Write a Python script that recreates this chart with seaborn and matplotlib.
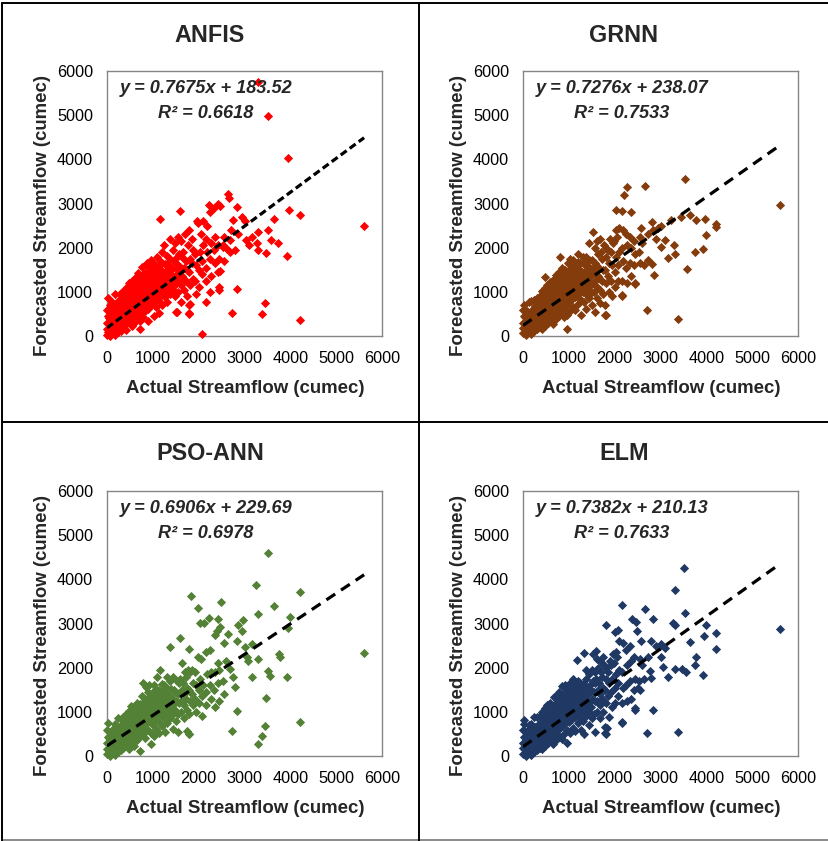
import matplotlib
matplotlib.use("Agg")
import matplotlib.pyplot as plt
import seaborn as sns
import pandas as pd
from matplotlib.lines import Line2D

# --- data (cumec) ---
models = ["ANFIS", "GRNN", "PSO-ANN", "ELM"]
slopes = [0.7675, 0.7276, 0.6906, 0.7382]
intercepts = [183.52, 238.07, 229.69, 210.13]
r2 = [0.6618, 0.7533, 0.6978, 0.7633]
colors = ["#FF0000", "#843C0C", "#538135", "#1F3864"]
ticks = [0, 1000, 2000, 3000, 4000, 5000, 6000]

anfis_actual = [
    0, 10, 5, 20, 0, 15, 30,
    60, 50, 70, 40, 80, 60,
    120, 110, 130, 100, 140, 120,
    180, 170, 190, 160, 200, 180, 170,
    240, 230, 250, 220, 260, 240,
    300, 290, 310, 280, 320, 300, 290,
    360, 350, 370, 340, 380, 360, 350,
    420, 410, 430, 400, 440, 420, 410, 430,
    480, 470, 490, 460, 500, 480, 470,
    540, 530, 550, 520, 560, 540, 530, 550,
    600, 590, 610, 580, 620, 600, 590, 610,
    660, 650, 670, 640, 680, 660, 650, 670,
    720, 710, 730, 700, 740, 720, 710, 730, 700,
    780, 770, 790, 760, 800, 780, 770, 790, 760,
    840, 830, 850, 820, 860, 840, 830, 850,
    900, 890, 910, 880, 920, 900, 890, 910, 880,
    960, 950, 970, 940, 980, 960, 950, 970,
    1020, 1010, 1030, 1000, 1040, 1020, 1010, 1030,
    1080, 1070, 1090, 1060, 1100, 1080, 1070, 1090,
    1140, 1130, 1150, 1120, 1160, 1140, 1130, 1150,
    1200, 1190, 1210, 1180, 1220, 1200, 1190, 1210,
    1260, 1250, 1270, 1240, 1280, 1260, 1250,
    1320, 1310, 1330, 1300, 1340, 1320, 1310,
    1380, 1370, 1390, 1360, 1400, 1380, 1370,
    1440, 1430, 1450, 1420, 1460, 1440,
    1500, 1490, 1510, 1480, 1520, 1500, 1490,
    1560, 1550, 1570, 1540, 1580, 1560,
    1620, 1610, 1630, 1600, 1640, 1620,
    1680, 1670, 1690, 1660, 1700,
    1740, 1730, 1750, 1720, 1760,
    1800, 1790, 1810, 1780, 1820, 1800,
    1870, 1860, 1880, 1850,
    1940, 1930, 1950, 1920, 1960,
    2010, 2000, 2020, 1990,
    2080, 2070, 2090, 2060, 2100,
    2170, 2160, 2180, 2150, 2190,
    2260, 2250, 2270, 2240,
    2350, 2340, 2360, 2330,
    2440, 2430, 2450, 2420, 2460,
    2550, 2540, 2560,
    3300, 3520, 3955, 5610, 4210, 3450, 3390, 2720, 2070, 2845,
    3970, 4220, 3640, 3300, 3520, 3570, 3740, 3480, 3930, 3300,
    3270, 3105, 3155, 3035, 2845, 2670, 2650, 2430, 2230, 1600,
    1150, 2760, 3010, 2955, 2865, 2685, 2795, 2685, 2525, 2455,
    2445, 2155, 1800, 1525, 1815, 2600, 2700, 2250,
]
anfis_forecast = [
    20, 150, 300, 450, 600, 870, 80,
    0, 120, 260, 400, 540, 700,
    60, 200, 340, 480, 620, 760,
    20, 150, 280, 420, 560, 700, 940,
    90, 230, 370, 510, 650, 800,
    120, 260, 400, 540, 680, 820, 960,
    180, 320, 460, 600, 740, 880, 1020,
    130, 280, 420, 560, 700, 840, 980, 1120,
    350, 490, 630, 770, 910, 1050, 1190,
    220, 400, 540, 680, 820, 960, 1100, 1240,
    300, 460, 600, 740, 880, 1020, 1160, 1320,
    420, 560, 700, 840, 980, 1120, 1260, 1420,
    150, 330, 500, 640, 780, 920, 1060, 1200, 1360,
    420, 570, 710, 850, 990, 1130, 1270, 1410, 1560,
    560, 720, 860, 1000, 1140, 1280, 1420, 1600,
    350, 620, 780, 920, 1060, 1200, 1340, 1480, 1660,
    700, 840, 980, 1120, 1260, 1400, 1550, 1720,
    450, 760, 900, 1040, 1180, 1320, 1460, 1620,
    650, 860, 1000, 1140, 1280, 1420, 1570, 1800,
    520, 800, 960, 1100, 1240, 1380, 1530, 1700,
    700, 920, 1060, 1200, 1340, 1480, 1650, 1900,
    880, 1050, 1190, 1330, 1480, 1640, 2050,
    760, 1000, 1150, 1300, 1460, 1620, 1820,
    950, 1100, 1250, 1400, 1560, 1750, 2200,
    1050, 1200, 1360, 1520, 1700, 1950,
    550, 900, 1180, 1350, 1520, 1760, 2100,
    1000, 1250, 1420, 1600, 1850, 2250,
    780, 1150, 1350, 1560, 1780, 2150,
    1050, 1300, 1550, 1900, 2300,
    900, 1250, 1500, 1700, 2050,
    520, 700, 1150, 1450, 1750, 2400,
    1300, 1650, 1950, 2200,
    950, 1250, 1600, 1850, 2600,
    1100, 1500, 1900, 2550,
    1400, 1700, 2050, 2300, 2600,
    1250, 1550, 1900, 2200, 2500,
    1350, 1750, 2100, 2800,
    1650, 1950, 2250, 2900,
    1050, 1450, 1750, 2050, 2950,
    1700, 2050, 2250,
    5740, 4980, 4040, 2500, 355, 750, 505, 530, 40, 1075,
    2850, 2745, 2660, 2360, 2395, 2170, 2095, 1890, 1815, 1945,
    2110, 2055, 2245, 2170, 2910, 3135, 3225, 3000, 2965, 2835,
    2640, 2625, 2610, 2700, 2320, 2170, 1945, 1905, 2020, 1475,
    1110, 770, 505, 545, 720, 2000, 2400, 1000,
]

grnn_actual = [
    0, 10, 5, 20, 0, 15,
    60, 50, 70, 40, 80,
    120, 110, 130, 100, 140,
    180, 170, 190, 160, 200, 180,
    240, 230, 250, 220, 260, 240,
    300, 290, 310, 280, 320, 300,
    360, 350, 370, 340, 380, 360,
    420, 410, 430, 400, 440, 420, 410,
    480, 470, 490, 460, 500, 480, 470, 490,
    540, 530, 550, 520, 560, 540, 530,
    600, 590, 610, 580, 620, 600, 590,
    660, 650, 670, 640, 680, 660, 650, 670,
    720, 710, 730, 700, 740, 720, 710, 730,
    780, 770, 790, 760, 800, 780, 770, 790, 810,
    840, 830, 850, 820, 860, 840, 830, 850,
    900, 890, 910, 880, 920, 900, 890, 910,
    960, 950, 970, 940, 980, 960, 950, 970, 980,
    1020, 1010, 1030, 1000, 1040, 1020, 1010, 1030,
    1080, 1070, 1090, 1060, 1100, 1080, 1070, 1090,
    1140, 1130, 1150, 1120, 1160, 1140, 1130,
    1200, 1190, 1210, 1180, 1220, 1200, 1190, 1210,
    1260, 1250, 1270, 1240, 1280, 1260, 1250,
    1320, 1310, 1330, 1300, 1340, 1320, 1310,
    1380, 1370, 1390, 1360, 1400, 1380, 1370,
    1440, 1430, 1450, 1420, 1460, 1440, 1430,
    1500, 1490, 1510, 1480, 1520, 1500, 1530,
    1560, 1550, 1570, 1540, 1580, 1560,
    1620, 1610, 1630, 1600, 1640, 1620,
    1680, 1670, 1690, 1660, 1700, 1680,
    1740, 1730, 1750, 1720, 1760,
    1800, 1790, 1810, 1780, 1820, 1800,
    1870, 1860, 1880, 1850, 1890,
    1940, 1930, 1950, 1920, 1960,
    2010, 2000, 2020, 1990, 2030,
    2080, 2070, 2090, 2060, 2100,
    2170, 2160, 2180, 2150, 2190,
    2260, 2250, 2270, 2240,
    2350, 2340, 2360, 2330,
    2440, 2430, 2450, 2420,
    2550, 2540, 2560, 2570,
    5615, 3530, 2655, 2270, 2205, 2350, 2035, 2160, 3635, 3455,
    3965, 3780, 4220, 4220, 4000, 3935, 3745, 3585, 3310, 3165,
    3020, 3090, 3295, 2725, 2835, 2815, 3005, 3235, 2725, 2815,
    2850, 2715, 3380, 2435, 2160, 1795, 2600, 2900, 2650, 2950,
]
grnn_forecast = [
    60, 180, 300, 450, 580, 700,
    30, 160, 290, 420, 560,
    80, 220, 360, 500, 780,
    40, 180, 320, 460, 600, 800,
    110, 250, 390, 530, 670, 820,
    150, 290, 430, 570, 710, 860,
    200, 340, 480, 620, 760, 900,
    160, 310, 450, 590, 730, 870, 1020,
    230, 380, 520, 660, 800, 940, 1080, 1340,
    300, 450, 590, 730, 870, 1010, 1150,
    370, 520, 660, 800, 940, 1080, 1220,
    280, 440, 590, 730, 870, 1010, 1150, 1300,
    380, 520, 660, 800, 940, 1080, 1220, 1380,
    450, 600, 740, 880, 1020, 1160, 1300, 1450, 1800,
    520, 680, 820, 960, 1100, 1240, 1380, 1550,
    420, 620, 780, 920, 1060, 1200, 1340, 1500,
    160, 480, 700, 860, 1000, 1140, 1280, 1440, 1650,
    560, 760, 920, 1060, 1200, 1340, 1500, 1750,
    650, 830, 980, 1120, 1260, 1400, 1560, 1720,
    600, 880, 1040, 1180, 1320, 1460, 1620,
    720, 960, 1100, 1240, 1380, 1520, 1680, 1850,
    480, 840, 1040, 1180, 1330, 1480, 1650,
    780, 1000, 1150, 1300, 1460, 1620, 1800,
    620, 950, 1120, 1280, 1440, 1600, 1780,
    850, 1050, 1220, 1380, 1540, 1720, 2100,
    700, 980, 1180, 1350, 1520, 1720, 2350,
    550, 1000, 1250, 1450, 1650, 2000,
    850, 1100, 1350, 1600, 1850, 2150,
    750, 1050, 1300, 1550, 1900, 2200,
    950, 1250, 1500, 1750, 2050,
    470, 700, 1200, 1500, 1800, 2000,
    1000, 1350, 1650, 1950, 2200,
    900, 1250, 1600, 1900, 2100,
    1100, 1450, 1800, 2150, 2400,
    1250, 1600, 1900, 2250, 2450,
    900, 1250, 1700, 2000, 2400,
    1200, 1550, 2050, 2300,
    1350, 1650, 2000, 2250,
    1200, 1600, 1850, 2150,
    1650, 1900, 2250, 2450,
    2960, 3545, 3395, 3380, 3190, 2810, 2850, 2835, 2735, 2700,
    2660, 2625, 2545, 2470, 2285, 1980, 1905, 1525, 1865, 1755,
    2005, 2170, 2055, 2320, 2395, 2585, 2500, 2625, 1715, 1640,
    1375, 580, 380, 1185, 920, 470, 2100, 2200, 1600, 2450,
]

pso_actual = [
    0, 10, 5, 20, 0, 15,
    60, 50, 70, 40, 80,
    120, 110, 130, 100, 140,
    180, 170, 190, 160, 200, 180,
    240, 230, 250, 220, 260, 240,
    300, 290, 310, 280, 320, 300,
    360, 350, 370, 340, 380, 360,
    420, 410, 430, 400, 440, 420,
    480, 470, 490, 460, 500, 480, 470,
    540, 530, 550, 520, 560, 540, 530,
    600, 590, 610, 580, 620, 600, 590,
    660, 650, 670, 640, 680, 660, 650,
    720, 710, 730, 700, 740, 720, 710,
    780, 770, 790, 760, 800, 780, 770, 790,
    840, 830, 850, 820, 860, 840, 830, 850,
    900, 890, 910, 880, 920, 900, 890, 910,
    960, 950, 970, 940, 980, 960, 950,
    1020, 1010, 1030, 1000, 1040, 1020, 1010, 1030,
    1080, 1070, 1090, 1060, 1100, 1080, 1070, 1090,
    1140, 1130, 1150, 1120, 1160, 1140, 1130, 1150,
    1200, 1190, 1210, 1180, 1220, 1200, 1190,
    1260, 1250, 1270, 1240, 1280, 1260, 1250,
    1320, 1310, 1330, 1300, 1340, 1320, 1310,
    1380, 1370, 1390, 1360, 1400, 1380,
    1440, 1430, 1450, 1420, 1460, 1440,
    1500, 1490, 1510, 1480, 1520,
    1560, 1550, 1570, 1540, 1580,
    1620, 1610, 1630, 1600, 1640,
    1680, 1670, 1690, 1660, 1700,
    1740, 1730, 1750, 1720, 1760,
    1800, 1790, 1810, 1780, 1820,
    1870, 1860, 1880, 1850,
    1940, 1930, 1950, 1920,
    2010, 2000, 2020, 1990,
    2080, 2070, 2090, 2060,
    2170, 2160, 2180, 2150,
    2260, 2250, 2270, 2240,
    2350, 2340, 2360,
    2440, 2430, 2450, 2420,
    2550, 2540, 2560,
    5610, 3505, 3250, 4210, 3645, 3300, 3990, 3955, 1830, 1975,
    2480, 2030, 2120, 2235, 2430, 2470, 2395, 2865, 2975, 2940,
    2650, 2845, 1600, 1365, 1780, 3155, 3010, 3050, 3085, 3300,
    3760, 3775, 3520, 3555, 3920, 3155, 3470, 2845, 3445, 3390,
    3300, 4210, 2720, 1800, 1740, 2760, 2795, 2685, 2600, 2350,
]
pso_forecast = [
    40, 160, 300, 440, 600, 750,
    0, 130, 270, 400, 540,
    60, 200, 340, 480, 620,
    20, 160, 300, 440, 580, 720,
    100, 240, 380, 520, 660, 870,
    140, 280, 420, 560, 700, 840,
    190, 330, 470, 610, 750, 890,
    250, 390, 530, 670, 810, 950,
    160, 320, 460, 600, 740, 880, 1020,
    300, 440, 580, 720, 860, 1000, 1140,
    220, 420, 560, 700, 840, 980, 1120,
    360, 500, 640, 780, 920, 1060, 1200,
    120, 460, 620, 760, 900, 1040, 1180,
    500, 650, 790, 930, 1070, 1210, 1350, 1650,
    400, 580, 740, 880, 1020, 1160, 1300, 1560,
    600, 760, 900, 1040, 1180, 1320, 1460, 1600,
    280, 520, 820, 960, 1100, 1240, 1380,
    450, 700, 880, 1020, 1160, 1300, 1440, 1600,
    620, 820, 960, 1100, 1240, 1380, 1520, 1780,
    520, 780, 940, 1080, 1220, 1360, 1500, 1950,
    680, 900, 1040, 1180, 1320, 1460, 1620,
    540, 860, 1020, 1160, 1300, 1440, 1600,
    750, 960, 1100, 1240, 1380, 1540, 1800,
    850, 1040, 1200, 1360, 1520, 1700,
    620, 950, 1150, 1320, 1500, 1800,
    800, 1050, 1250, 1450, 1700,
    550, 950, 1200, 1400, 1650,
    1000, 1250, 1500, 1750, 2100,
    850, 1150, 1400, 1650, 1900,
    1050, 1300, 1550, 1800, 1950,
    490, 950, 1250, 1500, 1900,
    1150, 1400, 1650, 1950,
    1000, 1300, 1600, 1900,
    1200, 1500, 1750, 2250,
    900, 1350, 1600, 2200,
    1150, 1450, 1850, 2350,
    1300, 1600, 1900, 2400,
    1100, 1500, 1900,
    1250, 1650, 1950, 2100,
    1400, 1700, 2550,
    2325, 4585, 3880, 3710, 3395, 3220, 3145, 2900, 3615, 3355,
    3485, 3015, 3015, 3130, 3105, 2915, 2840, 2975, 3090, 2840,
    2765, 2615, 2675, 2475, 2425, 2540, 2460, 2235, 2145, 2195,
    2310, 2250, 1930, 1820, 1795, 1780, 1310, 1025, 680, 455,
    265, 760, 555, 490, 570, 1780, 1555, 1970, 2150, 2750,
]

elm_actual = [
    0, 10, 5, 20, 0, 15, 30,
    60, 50, 70, 40, 80,
    120, 110, 130, 100, 140,
    180, 170, 190, 160, 200, 180,
    240, 230, 250, 220, 260, 240,
    300, 290, 310, 280, 320, 300,
    360, 350, 370, 340, 380, 360,
    420, 410, 430, 400, 440, 420, 410,
    480, 470, 490, 460, 500, 480, 470,
    540, 530, 550, 520, 560, 540, 530,
    600, 590, 610, 580, 620, 600, 590,
    660, 650, 670, 640, 680, 660, 650, 670,
    720, 710, 730, 700, 740, 720, 710, 730,
    780, 770, 790, 760, 800, 780, 770, 790,
    840, 830, 850, 820, 860, 840, 830, 850,
    900, 890, 910, 880, 920, 900, 890, 910,
    960, 950, 970, 940, 980, 960, 950, 970,
    1020, 1010, 1030, 1000, 1040, 1020, 1010, 1030,
    1080, 1070, 1090, 1060, 1100, 1080, 1070, 1090,
    1140, 1130, 1150, 1120, 1160, 1140, 1130, 1170,
    1200, 1190, 1210, 1180, 1220, 1200, 1190,
    1260, 1250, 1270, 1240, 1280, 1260, 1250,
    1320, 1310, 1330, 1300, 1340, 1320, 1310, 1340,
    1380, 1370, 1390, 1360, 1400, 1380, 1370,
    1440, 1430, 1450, 1420, 1460, 1440,
    1500, 1490, 1510, 1480, 1520, 1500, 1530,
    1560, 1550, 1570, 1540, 1580, 1560, 1590,
    1620, 1610, 1630, 1600, 1640, 1620,
    1680, 1670, 1690, 1660, 1700, 1680,
    1740, 1730, 1750, 1720, 1760, 1740,
    1800, 1790, 1810, 1780, 1820, 1800,
    1870, 1860, 1880, 1850, 1890,
    1940, 1930, 1950, 1920, 1960,
    2010, 2000, 2020, 1990, 2030,
    2080, 2070, 2090, 2060, 2100,
    2170, 2160, 2180, 2150, 2190,
    2260, 2250, 2270, 2240,
    2350, 2340, 2360, 2330,
    2440, 2430, 2450, 2420,
    2550, 2540, 2560, 2570,
    5615, 3515, 3310, 3525, 3275, 3310, 4000, 3950, 4220, 4220,
    3635, 3780, 3745, 3930, 3565, 3475, 3310, 3165, 3055, 3020,
    2980, 3020, 2800, 2835, 2655, 2475, 2495, 2385, 2160, 1820,
    2000, 2075, 2730, 2765, 2800, 2715, 3380, 2835, 2435, 2160,
    1780, 1840, 2600, 2900, 2650, 3100, 2500,
]
elm_forecast = [
    40, 170, 300, 440, 580, 720, 820,
    10, 150, 290, 430, 570,
    70, 210, 350, 490, 700,
    30, 170, 310, 450, 590, 730,
    100, 240, 380, 520, 660, 880,
    140, 280, 420, 560, 700, 880,
    190, 330, 470, 610, 750, 900,
    150, 300, 440, 580, 720, 860, 1000,
    220, 370, 510, 650, 790, 930, 1080,
    290, 440, 580, 720, 860, 1000, 1150,
    360, 510, 650, 790, 930, 1070, 1210,
    280, 430, 580, 720, 860, 1000, 1140, 1340,
    370, 510, 650, 790, 930, 1070, 1210, 1360,
    440, 590, 730, 870, 1010, 1150, 1290, 1450,
    380, 660, 800, 940, 1080, 1220, 1360, 1580,
    500, 720, 870, 1010, 1150, 1290, 1430, 1600,
    300, 600, 800, 940, 1080, 1220, 1360, 1520,
    520, 760, 900, 1040, 1180, 1320, 1460, 1650,
    640, 840, 980, 1120, 1260, 1400, 1550, 1750,
    560, 880, 1040, 1180, 1320, 1460, 1620, 2170,
    740, 960, 1100, 1240, 1380, 1520, 1700,
    600, 880, 1050, 1190, 1340, 1490, 1660,
    500, 800, 1000, 1150, 1300, 1460, 1620, 2330,
    900, 1080, 1240, 1400, 1560, 1750, 1950,
    700, 1000, 1200, 1400, 1600, 1850,
    850, 1100, 1300, 1500, 1700, 1950, 2300,
    550, 950, 1250, 1450, 1650, 1900, 2380,
    1000, 1250, 1500, 1750, 2000, 2200,
    850, 1150, 1400, 1650, 1900, 2150,
    1000, 1300, 1550, 1800, 2050, 2250,
    500, 650, 1200, 1500, 1750, 2000,
    880, 1350, 1650, 1900, 2150,
    1100, 1450, 1750, 2050, 2300,
    1200, 1550, 1850, 2100, 2350,
    1350, 1650, 1950, 2250, 2600,
    750, 1200, 1550, 1900, 2550,
    1250, 1600, 2050, 2400,
    1300, 1700, 2150, 2500,
    1050, 1500, 1750, 2250,
    1500, 1700, 2200, 2600,
    2865, 4265, 3750, 3235, 3015, 2975, 2975, 2725, 2790, 2415,
    2575, 2235, 2060, 1835, 1895, 1970, 1970, 1780, 2010, 2235,
    2485, 2540, 2615, 3105, 3335, 3030, 2840, 3105, 3430, 2955,
    2805, 2855, 2235, 1930, 1765, 530, 545, 1045, 1085, 760,
    510, 645, 2050, 2500, 1750, 2450, 1550,
]

actuals = [anfis_actual, grnn_actual, pso_actual, elm_actual]
forecasts = [anfis_forecast, grnn_forecast, pso_forecast, elm_forecast]

# --- layout (pixels of the 829x841 picture) ---
W, H = 829, 841
ax_left = [107, 523, 107, 523]
ax_top = [71, 71, 491, 491]
ax_w, ax_h = 275, 265
title_x = [210, 624, 210, 624]
title_y = [35, 35, 453, 453]
dash_style = [(2.3, 1.2), (3.3, 2.2), (3.3, 2.2), (3.3, 2.2)]

sns.set_style("white")
plt.rcParams["font.family"] = ["Liberation Sans", "DejaVu Sans"]

fig = plt.figure(figsize=(W / 100, H / 100), dpi=100)

for i, name in enumerate(models):
    df = pd.DataFrame({"actual": actuals[i], "forecast": forecasts[i]})
    ax = fig.add_axes([ax_left[i] / W, 1 - (ax_top[i] + ax_h) / H, ax_w / W, ax_h / H])
    sns.scatterplot(data=df, x="actual", y="forecast", ax=ax, marker="D", s=22,
                    color=colors[i], linewidth=0, clip_on=False, zorder=3)

    # trend line from the fitted equation
    x_end = max(actuals[i])
    ax.plot([0, x_end], [intercepts[i], slopes[i] * x_end + intercepts[i]],
            color="black", lw=2.3, dashes=dash_style[i], zorder=4)

    ax.set_xlim(0, 6000)
    ax.set_ylim(0, 6000)
    ax.set_xticks(ticks)
    ax.set_yticks(ticks)
    ax.tick_params(axis="both", direction="out", length=4, width=1,
                   color="#868686", labelsize=11.7, labelcolor="black")
    ax.tick_params(axis="x", pad=7)
    ax.tick_params(axis="y", pad=6)
    for sp in ax.spines.values():
        sp.set_color("#868686")
        sp.set_linewidth(1.0)

    ax.set_xlabel("Actual Streamflow (cumec)", fontsize=13.4, fontweight="bold")
    ax.set_ylabel("Forecasted Streamflow (cumec)", fontsize=13.4, fontweight="bold")
    ax.xaxis.set_label_coords(0.503, -0.165)
    ax.yaxis.set_label_coords(-0.205, 0.455)

    ax.text(0.36, 0.935, f"y = {slopes[i]:.4f}x + {intercepts[i]:.2f}",
            transform=ax.transAxes, ha="center", va="center",
            fontsize=13.1, fontweight="bold", fontstyle="italic")
    ax.text(0.36, 0.84, f"R² = {r2[i]:.4f}",
            transform=ax.transAxes, ha="center", va="center",
            fontsize=13.1, fontweight="bold", fontstyle="italic")

    fig.text(title_x[i] / W, 1 - title_y[i] / H, name, ha="center", va="center",
             fontsize=16.8, fontweight="bold")

# panel frame lines
def hline(y, x0, x1, c="black", lw=1.4):
    fig.add_artist(Line2D([x0 / W, x1 / W], [1 - y / H, 1 - y / H], color=c, lw=lw))

def vline(x, y0, y1, c="black", lw=1.4):
    fig.add_artist(Line2D([x / W, x / W], [1 - y0 / H, 1 - y1 / H], color=c, lw=lw))

hline(3, 2, W)
hline(422, 2, W)
hline(840, 2, W, c="#777777", lw=1.2)
vline(2.5, 3, 841)
vline(419, 3, 841)

fig.savefig("out.png", dpi=100)
